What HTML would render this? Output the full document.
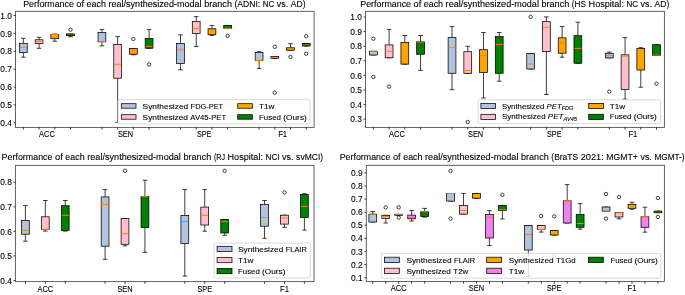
<!DOCTYPE html>
<html><head><meta charset="utf-8"><title>Boxplots</title>
<style>
html,body{margin:0;padding:0;background:#fff;}
body{width:685px;height:295px;overflow:hidden;}
svg{display:block;will-change:transform;}
text{font-family:"Liberation Sans", sans-serif;fill:#000;stroke:#000;stroke-width:0.1;}
.k{stroke:#000;stroke-width:0.75;}
line.k{fill:none;}
.m{stroke:#ff7f0e;stroke-width:0.95;}
.o{fill:none;stroke:#111;stroke-width:0.8;}
.sp{fill:none;stroke:#505050;stroke-width:0.9;}
.t{stroke:#000;stroke-width:0.75;}
.lg{fill:#fff;fill-opacity:0.8;stroke:#d0d0d0;stroke-width:0.8;}
</style></head>
<body><svg width="685" height="295" viewBox="0 0 685 295">
<rect x="0" y="0" width="685" height="295" fill="#fff"/>
<text x="23.2" y="6.5" font-size="8.45" textLength="50.63" lengthAdjust="spacingAndGlyphs">Performance</text>
<text x="76.37" y="6.5" font-size="8.45" textLength="7.7" lengthAdjust="spacingAndGlyphs">of</text>
<text x="86.62" y="6.5" font-size="8.45" textLength="19.27" lengthAdjust="spacingAndGlyphs">each</text>
<text x="108.43" y="6.5" font-size="8.45" textLength="93.21" lengthAdjust="spacingAndGlyphs">real/synthesized-modal</text>
<text x="204.18" y="6.5" font-size="8.45" textLength="27.78" lengthAdjust="spacingAndGlyphs">branch</text>
<text x="234.49" y="6.5" font-size="8.45" textLength="25.76" lengthAdjust="spacingAndGlyphs">(ADNI:</text>
<text x="262.8" y="6.5" font-size="8.45" textLength="11.56" lengthAdjust="spacingAndGlyphs">NC</text>
<text x="276.89" y="6.5" font-size="8.45" textLength="11.43" lengthAdjust="spacingAndGlyphs">vs.</text>
<text x="290.86" y="6.5" font-size="8.45" textLength="14.74" lengthAdjust="spacingAndGlyphs">AD)</text>
<line x1="23.36" y1="38.3" x2="23.36" y2="43.3" class="k"/>
<line x1="23.36" y1="52.6" x2="23.36" y2="57.2" class="k"/>
<line x1="21.06" y1="38.3" x2="25.66" y2="38.3" class="k"/>
<line x1="21.06" y1="57.2" x2="25.66" y2="57.2" class="k"/>
<rect x="19.46" y="43.3" width="7.8" height="9.3" fill="#b0c4de" class="k"/>
<line x1="19.86" y1="47.3" x2="26.86" y2="47.3" class="m"/>
<line x1="39.07" y1="37.3" x2="39.07" y2="39.8" class="k"/>
<line x1="39.07" y1="43.4" x2="39.07" y2="48.3" class="k"/>
<line x1="36.77" y1="37.3" x2="41.37" y2="37.3" class="k"/>
<line x1="36.77" y1="48.3" x2="41.37" y2="48.3" class="k"/>
<rect x="35.17" y="39.8" width="7.8" height="3.6" fill="#ffc0cb" class="k"/>
<line x1="35.57" y1="41.6" x2="42.57" y2="41.6" class="m"/>
<line x1="54.79" y1="34" x2="54.79" y2="34.5" class="k"/>
<line x1="54.79" y1="38.7" x2="54.79" y2="41.2" class="k"/>
<line x1="52.49" y1="34" x2="57.09" y2="34" class="k"/>
<line x1="52.49" y1="41.2" x2="57.09" y2="41.2" class="k"/>
<rect x="50.89" y="34.5" width="7.8" height="4.2" fill="#ffa500" class="k"/>
<line x1="51.29" y1="34.5" x2="58.29" y2="34.5" class="m"/>
<line x1="70.5" y1="35.7" x2="70.5" y2="36.7" class="k"/>
<line x1="68.2" y1="33.9" x2="72.8" y2="33.9" class="k"/>
<line x1="68.2" y1="36.7" x2="72.8" y2="36.7" class="k"/>
<rect x="66.6" y="33.9" width="7.8" height="1.8" fill="#008000" class="k"/>
<line x1="67" y1="33.8" x2="74" y2="33.8" class="m" style="stroke-width:0.6"/>
<circle cx="70.5" cy="29.7" r="1.7" class="o"/>
<line x1="101.93" y1="29.6" x2="101.93" y2="32.4" class="k"/>
<line x1="101.93" y1="41.8" x2="101.93" y2="45.9" class="k"/>
<line x1="99.63" y1="29.6" x2="104.23" y2="29.6" class="k"/>
<line x1="99.63" y1="45.9" x2="104.23" y2="45.9" class="k"/>
<rect x="98.03" y="32.4" width="7.8" height="9.4" fill="#b0c4de" class="k"/>
<line x1="98.43" y1="41.6" x2="105.43" y2="41.6" class="m"/>
<line x1="117.65" y1="36.6" x2="117.65" y2="44.4" class="k"/>
<line x1="117.65" y1="78.2" x2="117.65" y2="122.4" class="k"/>
<line x1="115.35" y1="36.6" x2="119.95" y2="36.6" class="k"/>
<line x1="115.35" y1="122.4" x2="119.95" y2="122.4" class="k"/>
<rect x="113.75" y="44.4" width="7.8" height="33.8" fill="#ffc0cb" class="k"/>
<line x1="114.15" y1="64.3" x2="121.15" y2="64.3" class="m"/>
<line x1="133.36" y1="54.2" x2="133.36" y2="54.8" class="k"/>
<line x1="131.06" y1="48.6" x2="135.66" y2="48.6" class="k"/>
<line x1="131.06" y1="54.8" x2="135.66" y2="54.8" class="k"/>
<rect x="129.46" y="48.6" width="7.8" height="5.6" fill="#ffa500" class="k"/>
<line x1="129.86" y1="50.3" x2="136.86" y2="50.3" class="m"/>
<circle cx="133.36" cy="39" r="1.7" class="o"/>
<line x1="149.08" y1="29.6" x2="149.08" y2="38.5" class="k"/>
<line x1="146.78" y1="29.6" x2="151.38" y2="29.6" class="k"/>
<line x1="146.78" y1="48.2" x2="151.38" y2="48.2" class="k"/>
<rect x="145.18" y="38.5" width="7.8" height="9.7" fill="#008000" class="k"/>
<line x1="145.58" y1="46.4" x2="152.58" y2="46.4" class="m"/>
<circle cx="149.08" cy="64.5" r="1.7" class="o"/>
<line x1="180.51" y1="34.8" x2="180.51" y2="43.5" class="k"/>
<line x1="180.51" y1="63.5" x2="180.51" y2="69.8" class="k"/>
<line x1="178.21" y1="34.8" x2="182.81" y2="34.8" class="k"/>
<line x1="178.21" y1="69.8" x2="182.81" y2="69.8" class="k"/>
<rect x="176.61" y="43.5" width="7.8" height="20" fill="#b0c4de" class="k"/>
<line x1="177.01" y1="49.8" x2="184.01" y2="49.8" class="m"/>
<line x1="196.22" y1="16.6" x2="196.22" y2="21.5" class="k"/>
<line x1="196.22" y1="33.5" x2="196.22" y2="46.4" class="k"/>
<line x1="193.92" y1="16.6" x2="198.52" y2="16.6" class="k"/>
<line x1="193.92" y1="46.4" x2="198.52" y2="46.4" class="k"/>
<rect x="192.32" y="21.5" width="7.8" height="12" fill="#ffc0cb" class="k"/>
<line x1="192.72" y1="28.6" x2="199.72" y2="28.6" class="m"/>
<line x1="211.94" y1="25.5" x2="211.94" y2="28.8" class="k"/>
<line x1="211.94" y1="34.7" x2="211.94" y2="35.4" class="k"/>
<line x1="209.64" y1="25.5" x2="214.24" y2="25.5" class="k"/>
<line x1="209.64" y1="35.4" x2="214.24" y2="35.4" class="k"/>
<rect x="208.04" y="28.8" width="7.8" height="5.9" fill="#ffa500" class="k"/>
<line x1="225.35" y1="25.4" x2="229.95" y2="25.4" class="k"/>
<line x1="225.35" y1="28.4" x2="229.95" y2="28.4" class="k"/>
<rect x="223.75" y="25.4" width="7.8" height="3" fill="#008000" class="k"/>
<line x1="224.15" y1="28.4" x2="231.15" y2="28.4" class="m"/>
<circle cx="227.65" cy="35.9" r="1.7" class="o"/>
<line x1="259.08" y1="51.7" x2="259.08" y2="52.5" class="k"/>
<line x1="259.08" y1="60.6" x2="259.08" y2="68.4" class="k"/>
<line x1="256.78" y1="51.7" x2="261.38" y2="51.7" class="k"/>
<line x1="256.78" y1="68.4" x2="261.38" y2="68.4" class="k"/>
<rect x="255.18" y="52.5" width="7.8" height="8.1" fill="#b0c4de" class="k"/>
<line x1="255.58" y1="60.6" x2="262.58" y2="60.6" class="m"/>
<line x1="272.5" y1="56.5" x2="277.1" y2="56.5" class="k"/>
<line x1="272.5" y1="58.3" x2="277.1" y2="58.3" class="k"/>
<rect x="270.9" y="56.5" width="7.8" height="1.8" fill="#ffc0cb" class="k"/>
<line x1="271.3" y1="57.4" x2="278.3" y2="57.4" class="m"/>
<circle cx="274.8" cy="46.8" r="1.7" class="o"/>
<circle cx="274.8" cy="92.7" r="1.7" class="o"/>
<line x1="290.51" y1="43.7" x2="290.51" y2="47.8" class="k"/>
<line x1="288.21" y1="43.7" x2="292.81" y2="43.7" class="k"/>
<line x1="288.21" y1="50.2" x2="292.81" y2="50.2" class="k"/>
<rect x="286.61" y="47.8" width="7.8" height="2.4" fill="#ffa500" class="k"/>
<circle cx="290.51" cy="57" r="1.7" class="o"/>
<line x1="303.93" y1="43.4" x2="308.53" y2="43.4" class="k"/>
<line x1="303.93" y1="46" x2="308.53" y2="46" class="k"/>
<rect x="302.33" y="43.4" width="7.8" height="2.6" fill="#008000" class="k"/>
<line x1="302.73" y1="44.8" x2="309.73" y2="44.8" class="m" style="stroke-width:0.55"/>
<circle cx="306.23" cy="36.2" r="1.7" class="o"/>
<circle cx="306.23" cy="53.7" r="1.7" class="o"/>
<rect x="15.5" y="11.35" width="298.6" height="116.05" class="sp"/>
<line x1="13.6" y1="15.5" x2="15.5" y2="15.5" class="t"/>
<text x="12" y="18.6" font-size="8.3" text-anchor="end" textLength="11.7" lengthAdjust="spacingAndGlyphs">1.0</text>
<line x1="13.6" y1="33.4" x2="15.5" y2="33.4" class="t"/>
<text x="12" y="36.5" font-size="8.3" text-anchor="end" textLength="11.7" lengthAdjust="spacingAndGlyphs">0.9</text>
<line x1="13.6" y1="51.3" x2="15.5" y2="51.3" class="t"/>
<text x="12" y="54.4" font-size="8.3" text-anchor="end" textLength="11.7" lengthAdjust="spacingAndGlyphs">0.8</text>
<line x1="13.6" y1="69.2" x2="15.5" y2="69.2" class="t"/>
<text x="12" y="72.3" font-size="8.3" text-anchor="end" textLength="11.7" lengthAdjust="spacingAndGlyphs">0.7</text>
<line x1="13.6" y1="87.1" x2="15.5" y2="87.1" class="t"/>
<text x="12" y="90.2" font-size="8.3" text-anchor="end" textLength="11.7" lengthAdjust="spacingAndGlyphs">0.6</text>
<line x1="13.6" y1="104.9" x2="15.5" y2="104.9" class="t"/>
<text x="12" y="108" font-size="8.3" text-anchor="end" textLength="11.7" lengthAdjust="spacingAndGlyphs">0.5</text>
<line x1="13.6" y1="122.8" x2="15.5" y2="122.8" class="t"/>
<text x="12" y="125.9" font-size="8.3" text-anchor="end" textLength="11.7" lengthAdjust="spacingAndGlyphs">0.4</text>
<line x1="23.36" y1="127.4" x2="23.36" y2="129.6" class="t"/>
<line x1="39.07" y1="127.4" x2="39.07" y2="129.6" class="t"/>
<line x1="54.79" y1="127.4" x2="54.79" y2="129.6" class="t"/>
<line x1="70.5" y1="127.4" x2="70.5" y2="129.6" class="t"/>
<line x1="101.93" y1="127.4" x2="101.93" y2="129.6" class="t"/>
<line x1="117.65" y1="127.4" x2="117.65" y2="129.6" class="t"/>
<line x1="133.36" y1="127.4" x2="133.36" y2="129.6" class="t"/>
<line x1="149.08" y1="127.4" x2="149.08" y2="129.6" class="t"/>
<line x1="180.51" y1="127.4" x2="180.51" y2="129.6" class="t"/>
<line x1="196.22" y1="127.4" x2="196.22" y2="129.6" class="t"/>
<line x1="211.94" y1="127.4" x2="211.94" y2="129.6" class="t"/>
<line x1="227.65" y1="127.4" x2="227.65" y2="129.6" class="t"/>
<line x1="259.08" y1="127.4" x2="259.08" y2="129.6" class="t"/>
<line x1="274.8" y1="127.4" x2="274.8" y2="129.6" class="t"/>
<line x1="290.51" y1="127.4" x2="290.51" y2="129.6" class="t"/>
<line x1="306.23" y1="127.4" x2="306.23" y2="129.6" class="t"/>
<text x="46.93" y="137.4" font-size="8.2" text-anchor="middle" textLength="15.8" lengthAdjust="spacingAndGlyphs">ACC</text>
<text x="125.5" y="137.4" font-size="8.2" text-anchor="middle" textLength="15.2" lengthAdjust="spacingAndGlyphs">SEN</text>
<text x="204.08" y="137.4" font-size="8.2" text-anchor="middle" textLength="14.4" lengthAdjust="spacingAndGlyphs">SPE</text>
<text x="282.65" y="137.4" font-size="8.2" text-anchor="middle" textLength="9" lengthAdjust="spacingAndGlyphs">F1</text>
<rect x="118" y="99.7" width="192" height="24.3" rx="1.6" class="lg"/>
<rect x="121.3" y="103.7" width="14.7" height="4.5" fill="#b0c4de" class="k"/>
<text x="142.6" y="108.6" font-size="7.9" textLength="45.62" lengthAdjust="spacingAndGlyphs">Synthesized</text>
<text x="190.61" y="108.6" font-size="7.9" textLength="32.49" lengthAdjust="spacingAndGlyphs">FDG-PET</text>
<rect x="121.3" y="114.7" width="14.7" height="4.5" fill="#ffc0cb" class="k"/>
<text x="142.6" y="119.6" font-size="7.9" textLength="45.39" lengthAdjust="spacingAndGlyphs">Synthesized</text>
<text x="190.36" y="119.6" font-size="7.9" textLength="35.74" lengthAdjust="spacingAndGlyphs">AV45-PET</text>
<rect x="237.7" y="103.7" width="14.7" height="4.5" fill="#ffa500" class="k"/>
<text x="259" y="108.6" font-size="7.9" textLength="15.5" lengthAdjust="spacingAndGlyphs">T1w</text>
<rect x="237.7" y="114.7" width="14.7" height="4.5" fill="#008000" class="k"/>
<text x="259" y="119.6" font-size="7.9" textLength="21.93" lengthAdjust="spacingAndGlyphs">Fused</text>
<text x="283.31" y="119.6" font-size="7.9" textLength="23.49" lengthAdjust="spacingAndGlyphs">(Ours)</text>
<text x="360.3" y="6.5" font-size="8.45" textLength="50.69" lengthAdjust="spacingAndGlyphs">Performance</text>
<text x="413.53" y="6.5" font-size="8.45" textLength="7.71" lengthAdjust="spacingAndGlyphs">of</text>
<text x="423.78" y="6.5" font-size="8.45" textLength="19.29" lengthAdjust="spacingAndGlyphs">each</text>
<text x="445.62" y="6.5" font-size="8.45" textLength="93.31" lengthAdjust="spacingAndGlyphs">real/synthesized-modal</text>
<text x="541.47" y="6.5" font-size="8.45" textLength="27.81" lengthAdjust="spacingAndGlyphs">branch</text>
<text x="571.82" y="6.5" font-size="8.45" textLength="14.21" lengthAdjust="spacingAndGlyphs">(HS</text>
<text x="588.58" y="6.5" font-size="8.45" textLength="35.33" lengthAdjust="spacingAndGlyphs">Hospital:</text>
<text x="626.45" y="6.5" font-size="8.45" textLength="11.57" lengthAdjust="spacingAndGlyphs">NC</text>
<text x="640.56" y="6.5" font-size="8.45" textLength="11.44" lengthAdjust="spacingAndGlyphs">vs.</text>
<text x="654.55" y="6.5" font-size="8.45" textLength="14.75" lengthAdjust="spacingAndGlyphs">AD)</text>
<line x1="371.06" y1="51.3" x2="375.67" y2="51.3" class="k"/>
<line x1="371.06" y1="55" x2="375.67" y2="55" class="k"/>
<rect x="369.47" y="51.3" width="7.8" height="3.7" fill="#b0c4de" class="k"/>
<line x1="369.87" y1="51.3" x2="376.87" y2="51.3" class="m"/>
<circle cx="373.37" cy="38.7" r="1.7" class="o"/>
<circle cx="373.37" cy="76.9" r="1.7" class="o"/>
<line x1="389.1" y1="29.4" x2="389.1" y2="44.9" class="k"/>
<line x1="386.8" y1="29.4" x2="391.4" y2="29.4" class="k"/>
<line x1="386.8" y1="57.8" x2="391.4" y2="57.8" class="k"/>
<rect x="385.2" y="44.9" width="7.8" height="12.9" fill="#ffc0cb" class="k"/>
<line x1="385.6" y1="51.4" x2="392.6" y2="51.4" class="m"/>
<circle cx="389.1" cy="86.6" r="1.7" class="o"/>
<line x1="404.82" y1="35.5" x2="404.82" y2="42.5" class="k"/>
<line x1="402.52" y1="35.5" x2="407.12" y2="35.5" class="k"/>
<line x1="402.52" y1="64.1" x2="407.12" y2="64.1" class="k"/>
<rect x="400.93" y="42.5" width="7.8" height="21.6" fill="#ffa500" class="k"/>
<line x1="420.56" y1="35.5" x2="420.56" y2="41.8" class="k"/>
<line x1="420.56" y1="54.3" x2="420.56" y2="70.4" class="k"/>
<line x1="418.25" y1="35.5" x2="422.86" y2="35.5" class="k"/>
<line x1="418.25" y1="70.4" x2="422.86" y2="70.4" class="k"/>
<rect x="416.66" y="41.8" width="7.8" height="12.5" fill="#008000" class="k"/>
<line x1="417.06" y1="42.2" x2="424.06" y2="42.2" class="m"/>
<line x1="452.01" y1="26.6" x2="452.01" y2="37.5" class="k"/>
<line x1="452.01" y1="73.3" x2="452.01" y2="89.7" class="k"/>
<line x1="449.71" y1="26.6" x2="454.31" y2="26.6" class="k"/>
<line x1="449.71" y1="89.7" x2="454.31" y2="89.7" class="k"/>
<rect x="448.12" y="37.5" width="7.8" height="35.8" fill="#b0c4de" class="k"/>
<line x1="448.51" y1="47.4" x2="455.51" y2="47.4" class="m"/>
<line x1="467.75" y1="46.3" x2="467.75" y2="51.7" class="k"/>
<line x1="465.44" y1="46.3" x2="470.05" y2="46.3" class="k"/>
<line x1="465.44" y1="73.3" x2="470.05" y2="73.3" class="k"/>
<rect x="463.85" y="51.7" width="7.8" height="21.6" fill="#ffc0cb" class="k"/>
<line x1="464.25" y1="70.5" x2="471.25" y2="70.5" class="m"/>
<circle cx="467.75" cy="122" r="1.7" class="o"/>
<line x1="483.48" y1="32.5" x2="483.48" y2="49.7" class="k"/>
<line x1="483.48" y1="72.4" x2="483.48" y2="98" class="k"/>
<line x1="481.18" y1="32.5" x2="485.78" y2="32.5" class="k"/>
<line x1="481.18" y1="98" x2="485.78" y2="98" class="k"/>
<rect x="479.58" y="49.7" width="7.8" height="22.7" fill="#ffa500" class="k"/>
<line x1="479.98" y1="55.4" x2="486.98" y2="55.4" class="m"/>
<line x1="499.21" y1="32.5" x2="499.21" y2="36.6" class="k"/>
<line x1="499.21" y1="73.3" x2="499.21" y2="81.2" class="k"/>
<line x1="496.91" y1="32.5" x2="501.51" y2="32.5" class="k"/>
<line x1="496.91" y1="81.2" x2="501.51" y2="81.2" class="k"/>
<rect x="495.31" y="36.6" width="7.8" height="36.7" fill="#008000" class="k"/>
<line x1="495.71" y1="44.4" x2="502.71" y2="44.4" class="m"/>
<line x1="528.37" y1="53.6" x2="532.96" y2="53.6" class="k"/>
<line x1="528.37" y1="69" x2="532.96" y2="69" class="k"/>
<rect x="526.76" y="53.6" width="7.8" height="15.4" fill="#b0c4de" class="k"/>
<line x1="527.16" y1="64.1" x2="534.16" y2="64.1" class="m"/>
<circle cx="530.66" cy="16.9" r="1.7" class="o"/>
<line x1="546.39" y1="16.9" x2="546.39" y2="21.7" class="k"/>
<line x1="546.39" y1="51.4" x2="546.39" y2="94.5" class="k"/>
<line x1="544.1" y1="16.9" x2="548.69" y2="16.9" class="k"/>
<line x1="544.1" y1="94.5" x2="548.69" y2="94.5" class="k"/>
<rect x="542.5" y="21.7" width="7.8" height="29.7" fill="#ffc0cb" class="k"/>
<line x1="542.89" y1="27.4" x2="549.89" y2="27.4" class="m"/>
<line x1="562.12" y1="26.5" x2="562.12" y2="37.8" class="k"/>
<line x1="562.12" y1="53.2" x2="562.12" y2="57.2" class="k"/>
<line x1="559.83" y1="26.5" x2="564.42" y2="26.5" class="k"/>
<line x1="559.83" y1="57.2" x2="564.42" y2="57.2" class="k"/>
<rect x="558.23" y="37.8" width="7.8" height="15.4" fill="#ffa500" class="k"/>
<line x1="558.62" y1="43.1" x2="565.62" y2="43.1" class="m"/>
<line x1="577.86" y1="22.2" x2="577.86" y2="35.7" class="k"/>
<line x1="575.56" y1="22.2" x2="580.15" y2="22.2" class="k"/>
<line x1="575.56" y1="63.2" x2="580.15" y2="63.2" class="k"/>
<rect x="573.96" y="35.7" width="7.8" height="27.5" fill="#008000" class="k"/>
<line x1="574.36" y1="48.4" x2="581.36" y2="48.4" class="m"/>
<line x1="609.32" y1="52.1" x2="609.32" y2="53.3" class="k"/>
<line x1="607.02" y1="52.1" x2="611.62" y2="52.1" class="k"/>
<line x1="607.02" y1="57.9" x2="611.62" y2="57.9" class="k"/>
<rect x="605.42" y="53.3" width="7.8" height="4.6" fill="#b0c4de" class="k"/>
<line x1="605.82" y1="55.5" x2="612.82" y2="55.5" class="m"/>
<circle cx="609.32" cy="91.6" r="1.7" class="o"/>
<line x1="625.05" y1="37.6" x2="625.05" y2="54.8" class="k"/>
<line x1="625.05" y1="89.4" x2="625.05" y2="99.1" class="k"/>
<line x1="622.75" y1="37.6" x2="627.35" y2="37.6" class="k"/>
<line x1="622.75" y1="99.1" x2="627.35" y2="99.1" class="k"/>
<rect x="621.15" y="54.8" width="7.8" height="34.6" fill="#ffc0cb" class="k"/>
<line x1="621.55" y1="56.1" x2="628.55" y2="56.1" class="m"/>
<line x1="640.78" y1="47.7" x2="640.78" y2="48.6" class="k"/>
<line x1="640.78" y1="70" x2="640.78" y2="87.2" class="k"/>
<line x1="638.48" y1="47.7" x2="643.08" y2="47.7" class="k"/>
<line x1="638.48" y1="87.2" x2="643.08" y2="87.2" class="k"/>
<rect x="636.88" y="48.6" width="7.8" height="21.4" fill="#ffa500" class="k"/>
<line x1="654.21" y1="44.7" x2="658.8" y2="44.7" class="k"/>
<line x1="654.21" y1="55.3" x2="658.8" y2="55.3" class="k"/>
<rect x="652.61" y="44.7" width="7.8" height="10.6" fill="#008000" class="k"/>
<line x1="653" y1="55.1" x2="660" y2="55.1" class="m"/>
<circle cx="656.5" cy="83.7" r="1.7" class="o"/>
<rect x="365.5" y="11.35" width="298.9" height="116.05" class="sp"/>
<line x1="363.6" y1="17" x2="365.5" y2="17" class="t"/>
<text x="362" y="20.1" font-size="8.3" text-anchor="end" textLength="11.7" lengthAdjust="spacingAndGlyphs">1.0</text>
<line x1="363.6" y1="31.6" x2="365.5" y2="31.6" class="t"/>
<text x="362" y="34.7" font-size="8.3" text-anchor="end" textLength="11.7" lengthAdjust="spacingAndGlyphs">0.9</text>
<line x1="363.6" y1="46.2" x2="365.5" y2="46.2" class="t"/>
<text x="362" y="49.3" font-size="8.3" text-anchor="end" textLength="11.7" lengthAdjust="spacingAndGlyphs">0.8</text>
<line x1="363.6" y1="60.8" x2="365.5" y2="60.8" class="t"/>
<text x="362" y="63.9" font-size="8.3" text-anchor="end" textLength="11.7" lengthAdjust="spacingAndGlyphs">0.7</text>
<line x1="363.6" y1="75.4" x2="365.5" y2="75.4" class="t"/>
<text x="362" y="78.5" font-size="8.3" text-anchor="end" textLength="11.7" lengthAdjust="spacingAndGlyphs">0.6</text>
<line x1="363.6" y1="90" x2="365.5" y2="90" class="t"/>
<text x="362" y="93.1" font-size="8.3" text-anchor="end" textLength="11.7" lengthAdjust="spacingAndGlyphs">0.5</text>
<line x1="363.6" y1="104.6" x2="365.5" y2="104.6" class="t"/>
<text x="362" y="107.7" font-size="8.3" text-anchor="end" textLength="11.7" lengthAdjust="spacingAndGlyphs">0.4</text>
<line x1="363.6" y1="119.2" x2="365.5" y2="119.2" class="t"/>
<text x="362" y="122.3" font-size="8.3" text-anchor="end" textLength="11.7" lengthAdjust="spacingAndGlyphs">0.3</text>
<line x1="373.37" y1="127.4" x2="373.37" y2="129.6" class="t"/>
<line x1="389.1" y1="127.4" x2="389.1" y2="129.6" class="t"/>
<line x1="404.82" y1="127.4" x2="404.82" y2="129.6" class="t"/>
<line x1="420.56" y1="127.4" x2="420.56" y2="129.6" class="t"/>
<line x1="452.01" y1="127.4" x2="452.01" y2="129.6" class="t"/>
<line x1="467.75" y1="127.4" x2="467.75" y2="129.6" class="t"/>
<line x1="483.48" y1="127.4" x2="483.48" y2="129.6" class="t"/>
<line x1="499.21" y1="127.4" x2="499.21" y2="129.6" class="t"/>
<line x1="530.66" y1="127.4" x2="530.66" y2="129.6" class="t"/>
<line x1="546.39" y1="127.4" x2="546.39" y2="129.6" class="t"/>
<line x1="562.12" y1="127.4" x2="562.12" y2="129.6" class="t"/>
<line x1="577.86" y1="127.4" x2="577.86" y2="129.6" class="t"/>
<line x1="609.32" y1="127.4" x2="609.32" y2="129.6" class="t"/>
<line x1="625.05" y1="127.4" x2="625.05" y2="129.6" class="t"/>
<line x1="640.78" y1="127.4" x2="640.78" y2="129.6" class="t"/>
<line x1="656.5" y1="127.4" x2="656.5" y2="129.6" class="t"/>
<text x="396.96" y="137.4" font-size="8.2" text-anchor="middle" textLength="15.8" lengthAdjust="spacingAndGlyphs">ACC</text>
<text x="475.61" y="137.4" font-size="8.2" text-anchor="middle" textLength="15.2" lengthAdjust="spacingAndGlyphs">SEN</text>
<text x="554.26" y="137.4" font-size="8.2" text-anchor="middle" textLength="14.4" lengthAdjust="spacingAndGlyphs">SPE</text>
<text x="632.91" y="137.4" font-size="8.2" text-anchor="middle" textLength="9" lengthAdjust="spacingAndGlyphs">F1</text>
<rect x="478.2" y="99.8" width="182.3" height="23.8" rx="1.6" class="lg"/>
<rect x="480.9" y="103.4" width="14.7" height="5.2" fill="#b0c4de" class="k"/>
<text x="502" y="108.5" font-size="7.9" textLength="71.3" lengthAdjust="spacingAndGlyphs">Synthesized <tspan font-style="italic">PET</tspan><tspan font-size="5.6" font-style="italic" dy="1.6">FDG</tspan></text>
<rect x="480.9" y="114.3" width="14.7" height="5.2" fill="#ffc0cb" class="k"/>
<text x="502" y="119.4" font-size="7.9" textLength="75" lengthAdjust="spacingAndGlyphs">Synthesized <tspan font-style="italic">PET</tspan><tspan font-size="5.6" font-style="italic" dy="1.6">AV45</tspan></text>
<rect x="588.7" y="103.4" width="14.7" height="5.2" fill="#ffa500" class="k"/>
<text x="609.8" y="108.5" font-size="7.9" textLength="15.5" lengthAdjust="spacingAndGlyphs">T1w</text>
<rect x="588.7" y="114.3" width="14.7" height="5.2" fill="#008000" class="k"/>
<text x="609.8" y="119.4" font-size="7.9" textLength="21.56" lengthAdjust="spacingAndGlyphs">Fused</text>
<text x="633.7" y="119.4" font-size="7.9" textLength="23.1" lengthAdjust="spacingAndGlyphs">(Ours)</text>
<text x="1.6" y="159.8" font-size="8.45" textLength="50.88" lengthAdjust="spacingAndGlyphs">Performance</text>
<text x="55.03" y="159.8" font-size="8.45" textLength="7.74" lengthAdjust="spacingAndGlyphs">of</text>
<text x="65.32" y="159.8" font-size="8.45" textLength="19.36" lengthAdjust="spacingAndGlyphs">each</text>
<text x="87.24" y="159.8" font-size="8.45" textLength="93.66" lengthAdjust="spacingAndGlyphs">real/synthesized-modal</text>
<text x="183.45" y="159.8" font-size="8.45" textLength="27.91" lengthAdjust="spacingAndGlyphs">branch</text>
<text x="213.91" y="159.8" font-size="8.45" textLength="11.08" lengthAdjust="spacingAndGlyphs">(RJ</text>
<text x="227.54" y="159.8" font-size="8.45" textLength="35.46" lengthAdjust="spacingAndGlyphs">Hospital:</text>
<text x="265.56" y="159.8" font-size="8.45" textLength="13.98" lengthAdjust="spacingAndGlyphs">NCI</text>
<text x="282.09" y="159.8" font-size="8.45" textLength="11.49" lengthAdjust="spacingAndGlyphs">vs.</text>
<text x="296.13" y="159.8" font-size="8.45" textLength="26.97" lengthAdjust="spacingAndGlyphs">svMCI)</text>
<line x1="25.37" y1="205.5" x2="25.37" y2="220.4" class="k"/>
<line x1="25.37" y1="234.2" x2="25.37" y2="241.2" class="k"/>
<line x1="23.07" y1="205.5" x2="27.67" y2="205.5" class="k"/>
<line x1="23.07" y1="241.2" x2="27.67" y2="241.2" class="k"/>
<rect x="21.47" y="220.4" width="7.8" height="13.8" fill="#b0c4de" class="k"/>
<line x1="21.87" y1="230.4" x2="28.87" y2="230.4" class="m"/>
<line x1="45.3" y1="200.5" x2="45.3" y2="216.8" class="k"/>
<line x1="45.3" y1="229.4" x2="45.3" y2="231.1" class="k"/>
<line x1="43" y1="200.5" x2="47.59" y2="200.5" class="k"/>
<line x1="43" y1="231.1" x2="47.59" y2="231.1" class="k"/>
<rect x="41.4" y="216.8" width="7.8" height="12.6" fill="#ffc0cb" class="k"/>
<line x1="41.8" y1="229.4" x2="48.8" y2="229.4" class="m"/>
<line x1="65.23" y1="200.5" x2="65.23" y2="205.7" class="k"/>
<line x1="65.23" y1="230.4" x2="65.23" y2="231.1" class="k"/>
<line x1="62.93" y1="200.5" x2="67.53" y2="200.5" class="k"/>
<line x1="62.93" y1="231.1" x2="67.53" y2="231.1" class="k"/>
<rect x="61.33" y="205.7" width="7.8" height="24.7" fill="#008000" class="k"/>
<line x1="61.73" y1="215.3" x2="68.73" y2="215.3" class="m"/>
<line x1="105.09" y1="189.6" x2="105.09" y2="196.9" class="k"/>
<line x1="105.09" y1="246.2" x2="105.09" y2="259.3" class="k"/>
<line x1="102.79" y1="189.6" x2="107.39" y2="189.6" class="k"/>
<line x1="102.79" y1="259.3" x2="107.39" y2="259.3" class="k"/>
<rect x="101.19" y="196.9" width="7.8" height="49.3" fill="#b0c4de" class="k"/>
<line x1="101.59" y1="204.4" x2="108.59" y2="204.4" class="m"/>
<line x1="125.02" y1="244.3" x2="125.02" y2="245.9" class="k"/>
<line x1="122.72" y1="218.6" x2="127.31" y2="218.6" class="k"/>
<line x1="122.72" y1="245.9" x2="127.31" y2="245.9" class="k"/>
<rect x="121.11" y="218.6" width="7.8" height="25.7" fill="#ffc0cb" class="k"/>
<line x1="121.52" y1="233.7" x2="128.51" y2="233.7" class="m"/>
<circle cx="125.02" cy="170.8" r="1.7" class="o"/>
<line x1="144.94" y1="180.2" x2="144.94" y2="196.6" class="k"/>
<line x1="144.94" y1="227.5" x2="144.94" y2="252.4" class="k"/>
<line x1="142.64" y1="180.2" x2="147.25" y2="180.2" class="k"/>
<line x1="142.64" y1="252.4" x2="147.25" y2="252.4" class="k"/>
<rect x="141.04" y="196.6" width="7.8" height="30.9" fill="#008000" class="k"/>
<line x1="141.44" y1="196.6" x2="148.44" y2="196.6" class="m"/>
<line x1="184.81" y1="189.6" x2="184.81" y2="215.5" class="k"/>
<line x1="184.81" y1="243.6" x2="184.81" y2="276.1" class="k"/>
<line x1="182.5" y1="189.6" x2="187.11" y2="189.6" class="k"/>
<line x1="182.5" y1="276.1" x2="187.11" y2="276.1" class="k"/>
<rect x="180.91" y="215.5" width="7.8" height="28.1" fill="#b0c4de" class="k"/>
<line x1="181.31" y1="221.5" x2="188.31" y2="221.5" class="m"/>
<line x1="204.74" y1="189.6" x2="204.74" y2="207.1" class="k"/>
<line x1="204.74" y1="225" x2="204.74" y2="231.2" class="k"/>
<line x1="202.44" y1="189.6" x2="207.04" y2="189.6" class="k"/>
<line x1="202.44" y1="231.2" x2="207.04" y2="231.2" class="k"/>
<rect x="200.84" y="207.1" width="7.8" height="17.9" fill="#ffc0cb" class="k"/>
<line x1="201.24" y1="215.3" x2="208.24" y2="215.3" class="m"/>
<line x1="224.66" y1="233" x2="224.66" y2="235.3" class="k"/>
<line x1="222.36" y1="219.4" x2="226.97" y2="219.4" class="k"/>
<line x1="222.36" y1="235.3" x2="226.97" y2="235.3" class="k"/>
<rect x="220.76" y="219.4" width="7.8" height="13.6" fill="#008000" class="k"/>
<line x1="221.16" y1="221.4" x2="228.16" y2="221.4" class="m"/>
<circle cx="224.66" cy="170.8" r="1.7" class="o"/>
<line x1="264.52" y1="200.5" x2="264.52" y2="204.5" class="k"/>
<line x1="264.52" y1="226.2" x2="264.52" y2="238.3" class="k"/>
<line x1="262.22" y1="200.5" x2="266.82" y2="200.5" class="k"/>
<line x1="262.22" y1="238.3" x2="266.82" y2="238.3" class="k"/>
<rect x="260.62" y="204.5" width="7.8" height="21.7" fill="#b0c4de" class="k"/>
<line x1="261.02" y1="217.6" x2="268.02" y2="217.6" class="m"/>
<line x1="284.45" y1="224.1" x2="284.45" y2="227.3" class="k"/>
<line x1="282.15" y1="215.2" x2="286.75" y2="215.2" class="k"/>
<line x1="282.15" y1="227.3" x2="286.75" y2="227.3" class="k"/>
<rect x="280.56" y="215.2" width="7.8" height="8.9" fill="#ffc0cb" class="k"/>
<line x1="280.95" y1="218" x2="287.95" y2="218" class="m"/>
<circle cx="284.45" cy="192.4" r="1.7" class="o"/>
<line x1="304.38" y1="193.7" x2="304.38" y2="194.5" class="k"/>
<line x1="304.38" y1="217.4" x2="304.38" y2="230.1" class="k"/>
<line x1="302.08" y1="193.7" x2="306.69" y2="193.7" class="k"/>
<line x1="302.08" y1="230.1" x2="306.69" y2="230.1" class="k"/>
<rect x="300.49" y="194.5" width="7.8" height="22.9" fill="#008000" class="k"/>
<line x1="300.88" y1="206.4" x2="307.88" y2="206.4" class="m"/>
<rect x="15.4" y="165.4" width="298.6" height="116.2" class="sp"/>
<line x1="13.5" y1="182.3" x2="15.4" y2="182.3" class="t"/>
<text x="11.9" y="185.4" font-size="8.3" text-anchor="end" textLength="11.7" lengthAdjust="spacingAndGlyphs">0.8</text>
<line x1="13.5" y1="206.8" x2="15.4" y2="206.8" class="t"/>
<text x="11.9" y="209.9" font-size="8.3" text-anchor="end" textLength="11.7" lengthAdjust="spacingAndGlyphs">0.7</text>
<line x1="13.5" y1="231.4" x2="15.4" y2="231.4" class="t"/>
<text x="11.9" y="234.5" font-size="8.3" text-anchor="end" textLength="11.7" lengthAdjust="spacingAndGlyphs">0.6</text>
<line x1="13.5" y1="255.9" x2="15.4" y2="255.9" class="t"/>
<text x="11.9" y="259" font-size="8.3" text-anchor="end" textLength="11.7" lengthAdjust="spacingAndGlyphs">0.5</text>
<line x1="13.5" y1="280.5" x2="15.4" y2="280.5" class="t"/>
<text x="11.9" y="283.6" font-size="8.3" text-anchor="end" textLength="11.7" lengthAdjust="spacingAndGlyphs">0.4</text>
<line x1="25.37" y1="281.6" x2="25.37" y2="283.8" class="t"/>
<line x1="45.3" y1="281.6" x2="45.3" y2="283.8" class="t"/>
<line x1="65.23" y1="281.6" x2="65.23" y2="283.8" class="t"/>
<line x1="105.09" y1="281.6" x2="105.09" y2="283.8" class="t"/>
<line x1="125.02" y1="281.6" x2="125.02" y2="283.8" class="t"/>
<line x1="144.94" y1="281.6" x2="144.94" y2="283.8" class="t"/>
<line x1="184.81" y1="281.6" x2="184.81" y2="283.8" class="t"/>
<line x1="204.74" y1="281.6" x2="204.74" y2="283.8" class="t"/>
<line x1="224.66" y1="281.6" x2="224.66" y2="283.8" class="t"/>
<line x1="264.52" y1="281.6" x2="264.52" y2="283.8" class="t"/>
<line x1="284.45" y1="281.6" x2="284.45" y2="283.8" class="t"/>
<line x1="304.38" y1="281.6" x2="304.38" y2="283.8" class="t"/>
<text x="45.3" y="291.6" font-size="8.2" text-anchor="middle" textLength="15.8" lengthAdjust="spacingAndGlyphs">ACC</text>
<text x="125.02" y="291.6" font-size="8.2" text-anchor="middle" textLength="15.2" lengthAdjust="spacingAndGlyphs">SEN</text>
<text x="204.74" y="291.6" font-size="8.2" text-anchor="middle" textLength="14.4" lengthAdjust="spacingAndGlyphs">SPE</text>
<text x="284.45" y="291.6" font-size="8.2" text-anchor="middle" textLength="9" lengthAdjust="spacingAndGlyphs">F1</text>
<rect x="214" y="243.1" width="96.3" height="34.8" rx="1.6" class="lg"/>
<rect x="217.1" y="246.3" width="14.9" height="5.2" fill="#b0c4de" class="k"/>
<text x="238" y="251.8" font-size="7.9" textLength="45.32" lengthAdjust="spacingAndGlyphs">Synthesized</text>
<text x="285.69" y="251.8" font-size="7.9" textLength="21.11" lengthAdjust="spacingAndGlyphs">FLAIR</text>
<rect x="217.1" y="257.5" width="14.9" height="5.2" fill="#ffc0cb" class="k"/>
<text x="238" y="263" font-size="7.9" textLength="15.5" lengthAdjust="spacingAndGlyphs">T1w</text>
<rect x="217.1" y="268.5" width="14.9" height="5.2" fill="#008000" class="k"/>
<text x="238" y="274" font-size="7.9" textLength="21.75" lengthAdjust="spacingAndGlyphs">Fused</text>
<text x="262.11" y="274" font-size="7.9" textLength="23.29" lengthAdjust="spacingAndGlyphs">(Ours)</text>
<text x="339.7" y="159.8" font-size="8.45" textLength="50.72" lengthAdjust="spacingAndGlyphs">Performance</text>
<text x="392.96" y="159.8" font-size="8.45" textLength="7.71" lengthAdjust="spacingAndGlyphs">of</text>
<text x="403.22" y="159.8" font-size="8.45" textLength="19.3" lengthAdjust="spacingAndGlyphs">each</text>
<text x="425.07" y="159.8" font-size="8.45" textLength="93.37" lengthAdjust="spacingAndGlyphs">real/synthesized-modal</text>
<text x="520.98" y="159.8" font-size="8.45" textLength="27.82" lengthAdjust="spacingAndGlyphs">branch</text>
<text x="551.34" y="159.8" font-size="8.45" textLength="26.78" lengthAdjust="spacingAndGlyphs">(BraTS</text>
<text x="580.67" y="159.8" font-size="8.45" textLength="23.07" lengthAdjust="spacingAndGlyphs">2021:</text>
<text x="606.28" y="159.8" font-size="8.45" textLength="31.61" lengthAdjust="spacingAndGlyphs">MGMT+</text>
<text x="640.43" y="159.8" font-size="8.45" textLength="11.45" lengthAdjust="spacingAndGlyphs">vs.</text>
<text x="654.42" y="159.8" font-size="8.45" textLength="30.18" lengthAdjust="spacingAndGlyphs">MGMT-)</text>
<line x1="372.78" y1="211.6" x2="372.78" y2="214.2" class="k"/>
<line x1="370.48" y1="211.6" x2="375.08" y2="211.6" class="k"/>
<line x1="370.48" y1="222" x2="375.08" y2="222" class="k"/>
<rect x="368.88" y="214.2" width="7.8" height="7.8" fill="#b0c4de" class="k"/>
<line x1="369.28" y1="214.2" x2="376.28" y2="214.2" class="m"/>
<line x1="385.74" y1="218.3" x2="385.74" y2="223" class="k"/>
<line x1="383.44" y1="215.3" x2="388.04" y2="215.3" class="k"/>
<line x1="383.44" y1="223" x2="388.04" y2="223" class="k"/>
<rect x="381.84" y="215.3" width="7.8" height="3" fill="#ffc0cb" class="k"/>
<line x1="382.24" y1="216.6" x2="389.24" y2="216.6" class="m"/>
<circle cx="385.74" cy="207.4" r="1.7" class="o"/>
<line x1="396.4" y1="214.3" x2="401" y2="214.3" class="k"/>
<line x1="396.4" y1="215.3" x2="401" y2="215.3" class="k"/>
<rect x="394.8" y="214.3" width="7.8" height="1" fill="#ffa500" class="k"/>
<line x1="395.2" y1="214.5" x2="402.2" y2="214.5" class="m"/>
<circle cx="398.7" cy="207.4" r="1.7" class="o"/>
<circle cx="398.7" cy="217.6" r="1.7" class="o"/>
<line x1="411.66" y1="210.5" x2="411.66" y2="215.1" class="k"/>
<line x1="411.66" y1="218.8" x2="411.66" y2="221" class="k"/>
<line x1="409.36" y1="210.5" x2="413.96" y2="210.5" class="k"/>
<line x1="409.36" y1="221" x2="413.96" y2="221" class="k"/>
<rect x="407.76" y="215.1" width="7.8" height="3.7" fill="#ee82ee" class="k"/>
<line x1="408.16" y1="217.5" x2="415.16" y2="217.5" class="m"/>
<line x1="424.62" y1="208.4" x2="424.62" y2="211.7" class="k"/>
<line x1="424.62" y1="216.4" x2="424.62" y2="217.1" class="k"/>
<line x1="422.32" y1="208.4" x2="426.92" y2="208.4" class="k"/>
<line x1="422.32" y1="217.1" x2="426.92" y2="217.1" class="k"/>
<rect x="420.72" y="211.7" width="7.8" height="4.7" fill="#008000" class="k"/>
<line x1="421.12" y1="211.7" x2="428.12" y2="211.7" class="m"/>
<line x1="448.24" y1="193.5" x2="452.84" y2="193.5" class="k"/>
<line x1="448.24" y1="201.1" x2="452.84" y2="201.1" class="k"/>
<rect x="446.64" y="193.5" width="7.8" height="7.6" fill="#b0c4de" class="k"/>
<line x1="447.04" y1="193.5" x2="454.04" y2="193.5" class="m"/>
<circle cx="450.54" cy="170.9" r="1.7" class="o"/>
<circle cx="450.54" cy="218.6" r="1.7" class="o"/>
<line x1="463.5" y1="193.4" x2="463.5" y2="205.6" class="k"/>
<line x1="461.2" y1="193.4" x2="465.8" y2="193.4" class="k"/>
<line x1="461.2" y1="214.1" x2="465.8" y2="214.1" class="k"/>
<rect x="459.6" y="205.6" width="7.8" height="8.5" fill="#ffc0cb" class="k"/>
<line x1="460" y1="210.5" x2="467" y2="210.5" class="m"/>
<line x1="474.16" y1="193.4" x2="478.76" y2="193.4" class="k"/>
<line x1="474.16" y1="198.2" x2="478.76" y2="198.2" class="k"/>
<rect x="472.56" y="193.4" width="7.8" height="4.8" fill="#ffa500" class="k"/>
<line x1="489.42" y1="210.6" x2="489.42" y2="214.4" class="k"/>
<line x1="489.42" y1="238" x2="489.42" y2="245.5" class="k"/>
<line x1="487.12" y1="210.6" x2="491.72" y2="210.6" class="k"/>
<line x1="487.12" y1="245.5" x2="491.72" y2="245.5" class="k"/>
<rect x="485.52" y="214.4" width="7.8" height="23.6" fill="#ee82ee" class="k"/>
<line x1="485.92" y1="217.4" x2="492.92" y2="217.4" class="m"/>
<line x1="502.38" y1="210.4" x2="502.38" y2="219" class="k"/>
<line x1="500.08" y1="205.4" x2="504.68" y2="205.4" class="k"/>
<line x1="500.08" y1="219" x2="504.68" y2="219" class="k"/>
<rect x="498.48" y="205.4" width="7.8" height="5" fill="#008000" class="k"/>
<line x1="498.88" y1="209.7" x2="505.88" y2="209.7" class="m"/>
<circle cx="502.38" cy="194.8" r="1.7" class="o"/>
<line x1="528.3" y1="250" x2="528.3" y2="276.4" class="k"/>
<line x1="526" y1="225.5" x2="530.6" y2="225.5" class="k"/>
<line x1="526" y1="276.4" x2="530.6" y2="276.4" class="k"/>
<rect x="524.4" y="225.5" width="7.8" height="24.5" fill="#b0c4de" class="k"/>
<line x1="524.8" y1="234.5" x2="531.8" y2="234.5" class="m"/>
<line x1="541.26" y1="229.4" x2="541.26" y2="232.1" class="k"/>
<line x1="538.96" y1="225.5" x2="543.56" y2="225.5" class="k"/>
<line x1="538.96" y1="232.1" x2="543.56" y2="232.1" class="k"/>
<rect x="537.36" y="225.5" width="7.8" height="3.9" fill="#ffc0cb" class="k"/>
<line x1="537.76" y1="229.4" x2="544.76" y2="229.4" class="m"/>
<circle cx="541.26" cy="216" r="1.7" class="o"/>
<line x1="551.92" y1="230.5" x2="556.52" y2="230.5" class="k"/>
<line x1="551.92" y1="235" x2="556.52" y2="235" class="k"/>
<rect x="550.32" y="230.5" width="7.8" height="4.5" fill="#ffa500" class="k"/>
<circle cx="554.22" cy="216.4" r="1.7" class="o"/>
<circle cx="554.22" cy="255.7" r="1.7" class="o"/>
<line x1="567.18" y1="184.6" x2="567.18" y2="200.7" class="k"/>
<line x1="564.88" y1="184.6" x2="569.48" y2="184.6" class="k"/>
<line x1="564.88" y1="223" x2="569.48" y2="223" class="k"/>
<rect x="563.28" y="200.7" width="7.8" height="22.3" fill="#ee82ee" class="k"/>
<line x1="563.68" y1="200.7" x2="570.68" y2="200.7" class="m"/>
<line x1="580.14" y1="203.6" x2="580.14" y2="214.4" class="k"/>
<line x1="580.14" y1="227.3" x2="580.14" y2="229.2" class="k"/>
<line x1="577.84" y1="203.6" x2="582.44" y2="203.6" class="k"/>
<line x1="577.84" y1="229.2" x2="582.44" y2="229.2" class="k"/>
<rect x="576.24" y="214.4" width="7.8" height="12.9" fill="#008000" class="k"/>
<line x1="576.64" y1="223.5" x2="583.64" y2="223.5" class="m"/>
<line x1="603.76" y1="207" x2="608.36" y2="207" class="k"/>
<line x1="603.76" y1="211.2" x2="608.36" y2="211.2" class="k"/>
<rect x="602.16" y="207" width="7.8" height="4.2" fill="#b0c4de" class="k"/>
<line x1="602.56" y1="211.2" x2="609.56" y2="211.2" class="m"/>
<circle cx="606.06" cy="194" r="1.7" class="o"/>
<circle cx="606.06" cy="218.6" r="1.7" class="o"/>
<line x1="619.02" y1="217" x2="619.02" y2="218.8" class="k"/>
<line x1="616.72" y1="212.6" x2="621.32" y2="212.6" class="k"/>
<line x1="616.72" y1="218.8" x2="621.32" y2="218.8" class="k"/>
<rect x="615.12" y="212.6" width="7.8" height="4.4" fill="#ffc0cb" class="k"/>
<line x1="615.52" y1="212.8" x2="622.52" y2="212.8" class="m"/>
<circle cx="619.02" cy="197" r="1.7" class="o"/>
<line x1="631.98" y1="202.3" x2="631.98" y2="204.5" class="k"/>
<line x1="631.98" y1="208.3" x2="631.98" y2="209.3" class="k"/>
<line x1="629.68" y1="202.3" x2="634.28" y2="202.3" class="k"/>
<line x1="629.68" y1="209.3" x2="634.28" y2="209.3" class="k"/>
<rect x="628.08" y="204.5" width="7.8" height="3.8" fill="#ffa500" class="k"/>
<line x1="644.94" y1="207.2" x2="644.94" y2="216.7" class="k"/>
<line x1="644.94" y1="227.3" x2="644.94" y2="232.2" class="k"/>
<line x1="642.64" y1="207.2" x2="647.24" y2="207.2" class="k"/>
<line x1="642.64" y1="232.2" x2="647.24" y2="232.2" class="k"/>
<rect x="641.04" y="216.7" width="7.8" height="10.6" fill="#ee82ee" class="k"/>
<line x1="641.44" y1="216.7" x2="648.44" y2="216.7" class="m"/>
<line x1="655.6" y1="211.1" x2="660.2" y2="211.1" class="k"/>
<line x1="655.6" y1="212.7" x2="660.2" y2="212.7" class="k"/>
<rect x="654" y="211.1" width="7.8" height="1.6" fill="#008000" class="k"/>
<line x1="654.4" y1="211.9" x2="661.4" y2="211.9" class="m" style="stroke-width:0.45"/>
<circle cx="657.9" cy="198" r="1.7" class="o"/>
<circle cx="657.9" cy="216.9" r="1.7" class="o"/>
<rect x="366.3" y="165.3" width="298.1" height="116.2" class="sp"/>
<line x1="364.4" y1="172.9" x2="366.3" y2="172.9" class="t"/>
<text x="362.8" y="176" font-size="8.3" text-anchor="end" textLength="11.7" lengthAdjust="spacingAndGlyphs">0.9</text>
<line x1="364.4" y1="186" x2="366.3" y2="186" class="t"/>
<text x="362.8" y="189.1" font-size="8.3" text-anchor="end" textLength="11.7" lengthAdjust="spacingAndGlyphs">0.8</text>
<line x1="364.4" y1="199.1" x2="366.3" y2="199.1" class="t"/>
<text x="362.8" y="202.2" font-size="8.3" text-anchor="end" textLength="11.7" lengthAdjust="spacingAndGlyphs">0.7</text>
<line x1="364.4" y1="212.2" x2="366.3" y2="212.2" class="t"/>
<text x="362.8" y="215.3" font-size="8.3" text-anchor="end" textLength="11.7" lengthAdjust="spacingAndGlyphs">0.6</text>
<line x1="364.4" y1="225.2" x2="366.3" y2="225.2" class="t"/>
<text x="362.8" y="228.3" font-size="8.3" text-anchor="end" textLength="11.7" lengthAdjust="spacingAndGlyphs">0.5</text>
<line x1="364.4" y1="238.3" x2="366.3" y2="238.3" class="t"/>
<text x="362.8" y="241.4" font-size="8.3" text-anchor="end" textLength="11.7" lengthAdjust="spacingAndGlyphs">0.4</text>
<line x1="364.4" y1="251.4" x2="366.3" y2="251.4" class="t"/>
<text x="362.8" y="254.5" font-size="8.3" text-anchor="end" textLength="11.7" lengthAdjust="spacingAndGlyphs">0.3</text>
<line x1="364.4" y1="264.6" x2="366.3" y2="264.6" class="t"/>
<text x="362.8" y="267.7" font-size="8.3" text-anchor="end" textLength="11.7" lengthAdjust="spacingAndGlyphs">0.2</text>
<line x1="364.4" y1="277.8" x2="366.3" y2="277.8" class="t"/>
<text x="362.8" y="280.9" font-size="8.3" text-anchor="end" textLength="11.7" lengthAdjust="spacingAndGlyphs">0.1</text>
<line x1="372.78" y1="281.5" x2="372.78" y2="283.7" class="t"/>
<line x1="385.74" y1="281.5" x2="385.74" y2="283.7" class="t"/>
<line x1="398.7" y1="281.5" x2="398.7" y2="283.7" class="t"/>
<line x1="411.66" y1="281.5" x2="411.66" y2="283.7" class="t"/>
<line x1="424.62" y1="281.5" x2="424.62" y2="283.7" class="t"/>
<line x1="450.54" y1="281.5" x2="450.54" y2="283.7" class="t"/>
<line x1="463.5" y1="281.5" x2="463.5" y2="283.7" class="t"/>
<line x1="476.46" y1="281.5" x2="476.46" y2="283.7" class="t"/>
<line x1="489.42" y1="281.5" x2="489.42" y2="283.7" class="t"/>
<line x1="502.38" y1="281.5" x2="502.38" y2="283.7" class="t"/>
<line x1="528.3" y1="281.5" x2="528.3" y2="283.7" class="t"/>
<line x1="541.26" y1="281.5" x2="541.26" y2="283.7" class="t"/>
<line x1="554.22" y1="281.5" x2="554.22" y2="283.7" class="t"/>
<line x1="567.18" y1="281.5" x2="567.18" y2="283.7" class="t"/>
<line x1="580.14" y1="281.5" x2="580.14" y2="283.7" class="t"/>
<line x1="606.06" y1="281.5" x2="606.06" y2="283.7" class="t"/>
<line x1="619.02" y1="281.5" x2="619.02" y2="283.7" class="t"/>
<line x1="631.98" y1="281.5" x2="631.98" y2="283.7" class="t"/>
<line x1="644.94" y1="281.5" x2="644.94" y2="283.7" class="t"/>
<line x1="657.9" y1="281.5" x2="657.9" y2="283.7" class="t"/>
<text x="398.7" y="291" font-size="8.2" text-anchor="middle" textLength="15.8" lengthAdjust="spacingAndGlyphs">ACC</text>
<text x="476.46" y="291" font-size="8.2" text-anchor="middle" textLength="15.2" lengthAdjust="spacingAndGlyphs">SEN</text>
<text x="554.22" y="291" font-size="8.2" text-anchor="middle" textLength="14.4" lengthAdjust="spacingAndGlyphs">SPE</text>
<text x="631.98" y="291" font-size="8.2" text-anchor="middle" textLength="9" lengthAdjust="spacingAndGlyphs">F1</text>
<rect x="381.4" y="253.4" width="279.4" height="24.8" rx="1.6" class="lg"/>
<rect x="384.4" y="257.2" width="14.9" height="5.3" fill="#b0c4de" class="k"/>
<text x="406.4" y="262.8" font-size="7.9" textLength="45.32" lengthAdjust="spacingAndGlyphs">Synthesized</text>
<text x="454.09" y="262.8" font-size="7.9" textLength="21.11" lengthAdjust="spacingAndGlyphs">FLAIR</text>
<rect x="384.4" y="268.2" width="14.9" height="5.3" fill="#ffc0cb" class="k"/>
<text x="406.4" y="273.8" font-size="7.9" textLength="44.53" lengthAdjust="spacingAndGlyphs">Synthesized</text>
<text x="453.26" y="273.8" font-size="7.9" textLength="15.14" lengthAdjust="spacingAndGlyphs">T2w</text>
<rect x="486.7" y="257.2" width="14.9" height="5.3" fill="#ffa500" class="k"/>
<text x="508.7" y="262.8" font-size="7.9" textLength="44.98" lengthAdjust="spacingAndGlyphs">Synthesized</text>
<text x="556.03" y="262.8" font-size="7.9" textLength="19.67" lengthAdjust="spacingAndGlyphs">T1Gd</text>
<rect x="486.7" y="268.2" width="14.9" height="5.3" fill="#ee82ee" class="k"/>
<text x="508.7" y="273.8" font-size="7.9" textLength="15.5" lengthAdjust="spacingAndGlyphs">T1w</text>
<rect x="588.4" y="257.2" width="14.9" height="5.3" fill="#008000" class="k"/>
<text x="610.4" y="262.8" font-size="7.9" textLength="21.75" lengthAdjust="spacingAndGlyphs">Fused</text>
<text x="634.51" y="262.8" font-size="7.9" textLength="23.29" lengthAdjust="spacingAndGlyphs">(Ours)</text>
</svg></body></html>
